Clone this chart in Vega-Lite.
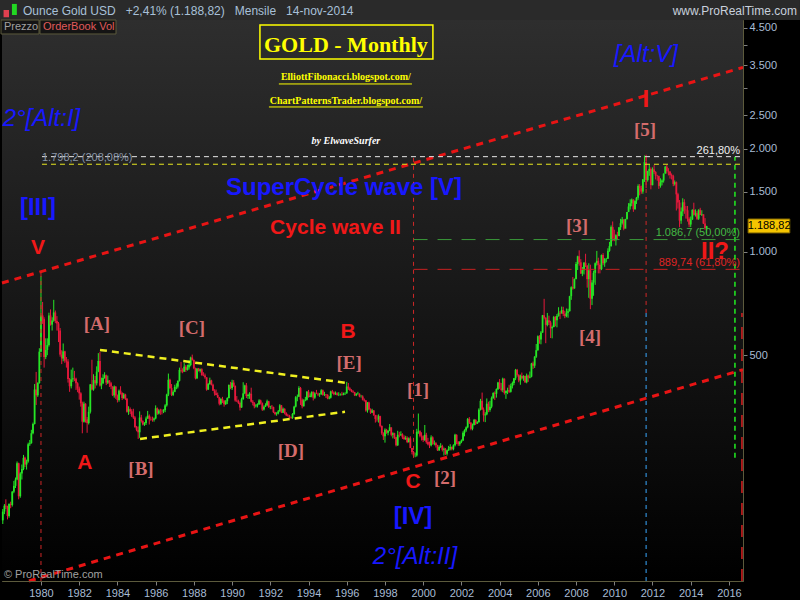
{
  "$schema": "https://vega.github.io/schema/vega-lite/v6.json",
  "width": 741,
  "height": 561,
  "autosize": "none",
  "padding": {"left": 2, "top": 20, "right": 57, "bottom": 19},
  "background": "#000000",
  "config": {"view": {"stroke": "#5c5a3c", "strokeWidth": 1}, "font": "Liberation Sans"},
  "encoding": {
    "x": {
      "field": "d", "type": "temporal", "title": null,
      "scale": {"type": "utc", "domain": [{"year": 1977, "month": 12, "date": 17, "utc": true}, {"year": 2016, "month": 9, "date": 26, "utc": true}]},
      "axis": {
        "values": [{"year": 1980, "utc": true}, {"year": 1982, "utc": true}, {"year": 1984, "utc": true}, {"year": 1986, "utc": true}, {"year": 1988, "utc": true}, {"year": 1990, "utc": true}, {"year": 1992, "utc": true}, {"year": 1994, "utc": true}, {"year": 1996, "utc": true}, {"year": 1998, "utc": true}, {"year": 2000, "utc": true}, {"year": 2002, "utc": true}, {"year": 2004, "utc": true}, {"year": 2006, "utc": true}, {"year": 2008, "utc": true}, {"year": 2010, "utc": true}, {"year": 2012, "utc": true}, {"year": 2014, "utc": true}, {"year": 2016, "utc": true}],
        "format": "%Y", "formatType": "utc",
        "labelColor": "#a8bcd4", "labelFontSize": 11, "labelFont": "Liberation Sans",
        "tickColor": "#808080", "tickSize": 4, "labelPadding": 2,
        "domainColor": "#5c5a3c", "grid": false, "zindex": 1, "labelFlush": false, "labelOverlap": false
      }
    },
    "y": {
      "field": "v", "type": "quantitative", "title": null,
      "scale": {"type": "log", "domain": [109.8, 4746], "nice": false},
      "axis": {
        "orient": "right",
        "values": [500, 1000, 1500, 2000, 2500, 3000, 3500, 4000, 4500],
        "labelExpr": "datum.value == 3000 || datum.value == 4000 ? '' : (datum.value < 1000 ? '' + datum.value : floor(datum.value / 1000) + '.' + (datum.value % 1000 == 0 ? '000' : '500'))",
        "labelColor": "#a8bcd4", "labelFontSize": 11, "labelFont": "Liberation Sans",
        "tickColor": "#808080", "tickSize": 4, "labelPadding": 2,
        "domainColor": "#5c5a3c", "grid": false, "zindex": 1, "labelFlush": false, "labelOverlap": false
      }
    }
  },
  "layer": [
    {
      "data": {"values": [{"d": "1977-12-17", "d2": "2016-09-26", "v": 109.8, "v2": 4746}]},
      "mark": {"type": "rect", "clip": false, "fill": {"gradient": "linear", "x1": 0, "y1": 0, "x2": 0, "y2": 1, "stops": [{"offset": 0, "color": "#2e2e2e"}, {"offset": 1, "color": "#000000"}]}},
      "encoding": {"x2": {"field": "d2"}, "y2": {"field": "v2"}}
    },
    {
      "data": {"values": [{"d": "1977-11-08", "d2": "2019-09-20", "v": 4746, "v2": 5600}]},
      "mark": {"type": "rect", "clip": false, "fill": "#2a2a2a"},
      "encoding": {"x2": {"field": "d2"}, "y2": {"field": "v2"}}
    },
    {
      "data": {"values": [{"d": "1978-01-16", "d2": "1978-04-30", "v": 4838, "v2": 5075, "s": "down"}, {"d": "1978-06-25", "d2": "1978-09-27", "v": 4907, "v2": 5287, "s": "up"}]},
      "mark": {"type": "rect", "clip": false},
      "encoding": {"x2": {"field": "d2"}, "y2": {"field": "v2"}, "color": {"condition": {"test": "datum.s == 'up'", "value": "#22d822"}, "value": "#e04050"}}
    },
    {
      "data": {"values": [{"d": "1977-11-28", "d2": "1979-11-24", "v": 4321, "v2": 4746}, {"d": "1979-12-13", "d2": "1983-12-05", "v": 4321, "v2": 4746}]},
      "mark": {"type": "rect", "clip": false, "fill": "#141414", "stroke": "#5c5a3c", "strokeWidth": 1},
      "encoding": {"x2": {"field": "d2"}, "y2": {"field": "v2"}}
    },
    {
      "data": {"name": "candles"},
      "mark": {"type": "rule", "strokeWidth": 1},
      "encoding": {
        "y": {
          "field": "l", "type": "quantitative", "title": null,
          "scale": {"type": "log", "domain": [109.8, 4746], "nice": false},
          "axis": {
            "orient": "right",
            "values": [500, 1000, 1500, 2000, 2500, 3000, 3500, 4000, 4500],
            "labelExpr": "datum.value == 3000 || datum.value == 4000 ? '' : (datum.value < 1000 ? '' + datum.value : floor(datum.value / 1000) + '.' + (datum.value % 1000 == 0 ? '000' : '500'))",
            "labelColor": "#a8bcd4", "labelFontSize": 11, "labelFont": "Liberation Sans",
            "tickColor": "#808080", "tickSize": 4, "labelPadding": 2,
            "domainColor": "#5c5a3c", "grid": false, "zindex": 1, "labelFlush": false, "labelOverlap": false
          }
        },
        "y2": {"field": "h"},
        "color": {"condition": {"test": "datum.c >= datum.o", "value": "#26e626"}, "value": "#e6193c"}
      }
    },
    {
      "data": {"name": "candles"},
      "mark": {"type": "rule", "strokeWidth": 1.8},
      "encoding": {
        "y": {
          "field": "o", "type": "quantitative", "title": null,
          "scale": {"type": "log", "domain": [109.8, 4746], "nice": false},
          "axis": {
            "orient": "right",
            "values": [500, 1000, 1500, 2000, 2500, 3000, 3500, 4000, 4500],
            "labelExpr": "datum.value == 3000 || datum.value == 4000 ? '' : (datum.value < 1000 ? '' + datum.value : floor(datum.value / 1000) + '.' + (datum.value % 1000 == 0 ? '000' : '500'))",
            "labelColor": "#a8bcd4", "labelFontSize": 11, "labelFont": "Liberation Sans",
            "tickColor": "#808080", "tickSize": 4, "labelPadding": 2,
            "domainColor": "#5c5a3c", "grid": false, "zindex": 1, "labelFlush": false, "labelOverlap": false
          }
        },
        "y2": {"field": "c"},
        "color": {"condition": {"test": "datum.c >= datum.o", "value": "#26e626"}, "value": "#e6193c"}
      }
    },
    {
      "data": {"values": [{"d": "1977-12-17", "v": 812, "g": "up"}, {"d": "2016-09-26", "v": 3453, "g": "up"}, {"d": "1979-05-16", "v": 109.8, "g": "low"}, {"d": "2016-09-26", "v": 454, "g": "low"}]},
      "mark": {"type": "line", "clip": false, "stroke": "#e81414", "strokeWidth": 3, "strokeDash": [7, 6]},
      "encoding": {"detail": {"field": "g"}}
    },
    {
      "data": {"values": [{"d": "1983-02-02", "v": 518, "g": "up"}, {"d": "1996-01-04", "v": 415, "g": "up"}, {"d": "1985-03-08", "v": 285, "g": "low"}, {"d": "1995-11-29", "v": 342, "g": "low"}]},
      "mark": {"type": "line", "stroke": "#f0f020", "strokeWidth": 2.5, "strokeDash": [7, 5]},
      "encoding": {"detail": {"field": "g"}}
    },
    {
      "data": {"values": [{"d": "1980-01-01", "v": 109.8, "v2": 874}, {"d": "1999-07-01", "v": 251, "v2": 1896}, {"d": "2011-09-01", "v": 664, "v2": 1920}]},
      "mark": {"type": "rule", "stroke": "#d02828", "strokeWidth": 1, "strokeDash": [4, 4]},
      "encoding": {"y2": {"field": "v2"}}
    },
    {
      "data": {"values": [{"d": "2011-09-01", "v": 109.8, "v2": 664}]},
      "mark": {"type": "rule", "stroke": "#3aa8ff", "strokeWidth": 1, "strokeDash": [4, 4]},
      "encoding": {"y2": {"field": "v2"}}
    },
    {
      "data": {"values": [{"d": "2016-04-25", "v": 251, "v2": 1896}]},
      "mark": {"type": "rule", "stroke": "#22ee22", "strokeWidth": 1.5, "strokeDash": [5, 4]},
      "encoding": {"y2": {"field": "v2"}}
    },
    {
      "data": {"values": [{"d": "2016-09-06", "v": 109.8, "v2": 664}]},
      "mark": {"type": "rule", "stroke": "#d82020", "strokeWidth": 1.5, "strokeDash": [12, 10]},
      "encoding": {"y2": {"field": "v2"}}
    },
    {
      "data": {"values": [{"d": "1980-01-20", "d2": "2016-07-31", "v": 1896}]},
      "mark": {"type": "rule", "stroke": "#e8e8e8", "strokeWidth": 1, "strokeDash": [5, 4]},
      "encoding": {"x2": {"field": "d2"}}
    },
    {
      "data": {"values": [{"d": "1980-01-20", "d2": "2016-07-31", "v": 1802}]},
      "mark": {"type": "rule", "stroke": "#e8e820", "strokeWidth": 1, "strokeDash": [5, 4]},
      "encoding": {"x2": {"field": "d2"}}
    },
    {
      "data": {"values": [{"d": "1999-07-01", "d2": "2016-07-31", "v": 1086.7}]},
      "mark": {"type": "rule", "stroke": "#3a9a3a", "strokeWidth": 1, "strokeDash": [14, 10]},
      "encoding": {"x2": {"field": "d2"}}
    },
    {
      "data": {"values": [{"d": "1999-07-01", "d2": "2016-07-31", "v": 889.74}]},
      "mark": {"type": "rule", "stroke": "#c82020", "strokeWidth": 1, "strokeDash": [14, 10]},
      "encoding": {"x2": {"field": "d2"}}
    },
    {
      "data": {"values": [{"d": "1991-06-17", "d2": "2000-07-05", "v": 3653, "v2": 4590}]},
      "mark": {"type": "rect", "filled": false, "stroke": "#ffff00", "strokeWidth": 1.5},
      "encoding": {"x2": {"field": "d2"}, "y2": {"field": "v2"}}
    },
    {
      "data": {"values": [{"d": "1992-06-13", "d2": "1999-05-31", "v": 3089}, {"d": "1991-12-06", "d2": "1999-12-28", "v": 2647}]},
      "mark": {"type": "rule", "stroke": "#ffff00", "strokeWidth": 1},
      "encoding": {"x2": {"field": "d2"}}
    },
    {
      "data": {"values": [{"d": "1995-12-16", "v": 4013, "t": "GOLD - Monthly"}]},
      "mark": {"type": "text", "font": "Liberation Serif", "fontWeight": "bold", "fontSize": 22, "color": "#ffff00", "align": "center", "baseline": "middle"},
      "encoding": {"text": {"field": "t"}}
    },
    {
      "data": {"values": [{"d": "1995-12-16", "v": 3237, "t": "ElliottFibonacci.blogspot.com/"}, {"d": "1995-12-16", "v": 2755, "t": "ChartPatternsTrader.blogspot.com/"}]},
      "mark": {"type": "text", "font": "Liberation Serif", "fontWeight": "bold", "fontSize": 10, "color": "#ffff00", "align": "center", "baseline": "middle"},
      "encoding": {"text": {"field": "t"}}
    },
    {
      "data": {"values": [{"d": "1995-12-16", "v": 2106, "t": "by ElwaveSurfer"}]},
      "mark": {"type": "text", "font": "Liberation Serif", "fontWeight": "bold", "fontStyle": "italic", "fontSize": 10, "color": "#ffffff", "align": "center", "baseline": "middle"},
      "encoding": {"text": {"field": "t"}}
    },
    {
      "data": {"values": [{"d": "2011-08-29", "v": 3752, "t": "[Alt:V]"}, {"d": "1980-01-10", "v": 2442, "t": "2°[Alt:I]"}, {"d": "1999-07-28", "v": 129, "t": "2°[Alt:II]"}]},
      "mark": {"type": "text", "fontStyle": "italic", "fontSize": 24, "color": "#1818ff", "align": "center", "baseline": "middle"},
      "encoding": {"text": {"field": "t"}}
    },
    {
      "data": {"values": [{"d": "1979-11-03", "v": 1344, "t": "[III]"}, {"d": "1999-06-21", "v": 169, "t": "[IV]"}, {"d": "1995-11-10", "v": 1537, "t": "SuperCycle wave [V]"}]},
      "mark": {"type": "text", "fontWeight": "bold", "fontSize": 24, "color": "#1818ff", "align": "center", "baseline": "middle"},
      "encoding": {"text": {"field": "t"}}
    },
    {
      "data": {"values": [{"d": "1979-11-03", "v": 1027, "t": "V"}, {"d": "1982-04-20", "v": 243, "t": "A"}, {"d": "1996-01-26", "v": 584, "t": "B"}, {"d": "1999-06-21", "v": 214, "t": "C"}, {"d": "1995-05-31", "v": 1175, "t": "Cycle wave II"}]},
      "mark": {"type": "text", "fontWeight": "bold", "fontSize": 21, "color": "#f01818", "align": "center", "baseline": "middle"},
      "encoding": {"text": {"field": "t"}}
    },
    {
      "data": {"values": [{"d": "2011-08-29", "v": 2774, "t": "I"}, {"d": "2015-04-10", "v": 1000, "t": "II?"}]},
      "mark": {"type": "text", "fontWeight": "bold", "fontSize": 24, "color": "#f01818", "align": "center", "baseline": "middle"},
      "encoding": {"text": {"field": "t"}}
    },
    {
      "data": {"values": [{"d": "2011-08-11", "v": 2268, "t": "[5]"}, {"d": "2008-01-19", "v": 1191, "t": "[3]"}, {"d": "2008-09-23", "v": 565, "t": "[4]"}, {"d": "1982-12-06", "v": 617, "t": "[A]"}, {"d": "1987-11-25", "v": 600, "t": "[C]"}, {"d": "1985-03-26", "v": 233, "t": "[B]"}, {"d": "1993-01-30", "v": 263, "t": "[D]"}, {"d": "1996-02-14", "v": 475, "t": "[E]"}, {"d": "1999-09-24", "v": 396, "t": "[1]"}, {"d": "2001-02-21", "v": 219, "t": "[2]"}]},
      "mark": {"type": "text", "font": "Liberation Serif", "fontWeight": "bold", "fontSize": 19, "color": "#d46c6c", "align": "center", "baseline": "middle"},
      "encoding": {"text": {"field": "t"}}
    },
    {
      "data": {"values": [{"d": "1980-01-20", "v": 1880, "t": "1.798,2 (208,08%)"}]},
      "mark": {"type": "text", "fontSize": 11, "color": "#8a96a8", "align": "left", "baseline": "middle"},
      "encoding": {"text": {"field": "t"}}
    },
    {
      "data": {"values": [{"d": "2016-07-31", "v": 1970, "t": "261,80%"}]},
      "mark": {"type": "text", "fontSize": 11, "color": "#f0f0f0", "align": "right", "baseline": "middle"},
      "encoding": {"text": {"field": "t"}}
    },
    {
      "data": {"values": [{"d": "2016-07-31", "v": 1136, "t": "1.086,7 (50,00%)"}]},
      "mark": {"type": "text", "fontSize": 11, "color": "#44b844", "align": "right", "baseline": "middle"},
      "encoding": {"text": {"field": "t"}}
    },
    {
      "data": {"values": [{"d": "2016-07-31", "v": 929, "t": "889,74 (61,80%)"}]},
      "mark": {"type": "text", "fontSize": 11, "color": "#e02424", "align": "right", "baseline": "middle"},
      "encoding": {"text": {"field": "t"}}
    },
    {
      "data": {"values": [{"d": "1978-01-23", "v": 114, "t": "© ProRealTime.com"}]},
      "mark": {"type": "text", "fontSize": 11, "color": "#a0a0a0", "align": "left", "baseline": "middle"},
      "encoding": {"text": {"field": "t"}}
    },
    {
      "data": {"values": [{"d": "1979-01-22", "v": 5041, "t": "Ounce Gold USD\u00a0\u00a0\u00a0+2,41% (1.188,82)\u00a0\u00a0\u00a0Mensile\u00a0\u00a0\u00a014-nov-2014"}]},
      "mark": {"type": "text", "clip": false, "fontSize": 12, "color": "#a8c0d8", "align": "left", "baseline": "middle"},
      "encoding": {"text": {"field": "t"}}
    },
    {
      "data": {"values": [{"d": "2019-07-24", "v": 5041, "t": "www.ProRealTime.com"}]},
      "mark": {"type": "text", "clip": false, "fontSize": 12, "color": "#c8d0dc", "align": "right", "baseline": "middle"},
      "encoding": {"text": {"field": "t"}}
    },
    {
      "data": {"values": [{"d": "1978-01-23", "v": 4529, "t": "Prezzo"}]},
      "mark": {"type": "text", "fontSize": 11, "color": "#a0a0a0", "align": "left", "baseline": "middle"},
      "encoding": {"text": {"field": "t"}}
    },
    {
      "data": {"values": [{"d": "1980-02-08", "v": 4529, "t": "OrderBook Vol"}]},
      "mark": {"type": "text", "fontSize": 11, "color": "#e05a5a", "align": "left", "baseline": "middle"},
      "encoding": {"text": {"field": "t"}}
    },
    {
      "data": {"values": [{"d": "2017-01-01", "d2": "2019-03-10", "v": 1136, "v2": 1248}]},
      "mark": {"type": "rect", "clip": false, "fill": "#f5c400", "stroke": "#7a6000", "strokeWidth": 1},
      "encoding": {"x2": {"field": "d2"}, "y2": {"field": "v2"}}
    },
    {
      "data": {"values": [{"d": "2018-02-07", "v": 1188.82, "t": "1.188,82"}]},
      "mark": {"type": "text", "clip": false, "fontSize": 11, "color": "#000000", "align": "center", "baseline": "middle"},
      "encoding": {"text": {"field": "t"}}
    }
  ],
  "datasets": {
    "candles": [
      {"d":"1978-01","o":165,"h":178,"l":161,"c":175},{"d":"1978-02","o":175,"h":184,"l":172,"c":182},{"d":"1978-03","o":182,"h":190,"l":178,"c":181},{"d":"1978-04","o":181,"h":182,"l":166,"c":170},{"d":"1978-05","o":170,"h":185,"l":168,"c":184},{"d":"1978-06","o":184,"h":187,"l":179,"c":183},{"d":"1978-07","o":183,"h":201,"l":181,"c":200},{"d":"1978-08","o":200,"h":215,"l":198,"c":208},{"d":"1978-09","o":208,"h":220,"l":205,"c":217},{"d":"1978-10","o":217,"h":245,"l":216,"c":242},{"d":"1978-11","o":242,"h":243,"l":190,"c":194},{"d":"1978-12","o":194,"h":228,"l":192,"c":226},
      {"d":"1979-01","o":226,"h":240,"l":217,"c":233},{"d":"1979-02","o":233,"h":256,"l":231,"c":251},{"d":"1979-03","o":251,"h":253,"l":236,"c":240},{"d":"1979-04","o":240,"h":248,"l":232,"c":245},{"d":"1979-05","o":245,"h":278,"l":243,"c":275},{"d":"1979-06","o":275,"h":283,"l":272,"c":277},{"d":"1979-07","o":277,"h":303,"l":276,"c":296},{"d":"1979-08","o":296,"h":318,"l":294,"c":315},{"d":"1979-09","o":315,"h":412,"l":314,"c":397},{"d":"1979-10","o":397,"h":447,"l":358,"c":382},{"d":"1979-11","o":382,"h":417,"l":378,"c":415},{"d":"1979-12","o":415,"h":524,"l":413,"c":512},
      {"d":"1980-01","o":512,"h":850,"l":510,"c":653},{"d":"1980-02","o":653,"h":715,"l":617,"c":637},{"d":"1980-03","o":637,"h":645,"l":460,"c":494},{"d":"1980-04","o":494,"h":560,"l":487,"c":518},{"d":"1980-05","o":518,"h":560,"l":500,"c":535},{"d":"1980-06","o":535,"h":665,"l":530,"c":653},{"d":"1980-07","o":653,"h":680,"l":610,"c":614},{"d":"1980-08","o":614,"h":645,"l":590,"c":631},{"d":"1980-09","o":631,"h":725,"l":626,"c":666},{"d":"1980-10","o":666,"h":675,"l":620,"c":629},{"d":"1980-11","o":629,"h":650,"l":590,"c":619},{"d":"1980-12","o":619,"h":625,"l":546,"c":590},
      {"d":"1981-01","o":590,"h":600,"l":495,"c":502},{"d":"1981-02","o":502,"h":517,"l":471,"c":489},{"d":"1981-03","o":489,"h":541,"l":480,"c":513},{"d":"1981-04","o":513,"h":515,"l":475,"c":482},{"d":"1981-05","o":482,"h":494,"l":460,"c":479},{"d":"1981-06","o":479,"h":487,"l":416,"c":426},{"d":"1981-07","o":426,"h":429,"l":391,"c":406},{"d":"1981-08","o":406,"h":454,"l":400,"c":425},{"d":"1981-09","o":425,"h":460,"l":418,"c":428},{"d":"1981-10","o":428,"h":450,"l":420,"c":427},{"d":"1981-11","o":427,"h":430,"l":396,"c":414},{"d":"1981-12","o":414,"h":417,"l":390,"c":400},
      {"d":"1982-01","o":400,"h":405,"l":371,"c":387},{"d":"1982-02","o":387,"h":390,"l":354,"c":362},{"d":"1982-03","o":362,"h":366,"l":296,"c":320},{"d":"1982-04","o":320,"h":366,"l":318,"c":361},{"d":"1982-05","o":361,"h":362,"l":318,"c":325},{"d":"1982-06","o":325,"h":330,"l":297,"c":317},{"d":"1982-07","o":317,"h":354,"l":314,"c":342},{"d":"1982-08","o":342,"h":412,"l":338,"c":411},{"d":"1982-09","o":411,"h":485,"l":395,"c":397},{"d":"1982-10","o":397,"h":440,"l":394,"c":423},{"d":"1982-11","o":423,"h":435,"l":400,"c":414},{"d":"1982-12","o":414,"h":464,"l":408,"c":448},
      {"d":"1983-01","o":448,"h":507,"l":446,"c":481},{"d":"1983-02","o":481,"h":511,"l":405,"c":408},{"d":"1983-03","o":408,"h":430,"l":398,"c":414},{"d":"1983-04","o":414,"h":440,"l":412,"c":429},{"d":"1983-05","o":429,"h":446,"l":427,"c":437},{"d":"1983-06","o":437,"h":439,"l":409,"c":416},{"d":"1983-07","o":416,"h":436,"l":412,"c":422},{"d":"1983-08","o":422,"h":423,"l":404,"c":414},{"d":"1983-09","o":414,"h":418,"l":398,"c":405},{"d":"1983-10","o":405,"h":406,"l":380,"c":382},{"d":"1983-11","o":382,"h":408,"l":376,"c":405},{"d":"1983-12","o":405,"h":406,"l":373,"c":381},
      {"d":"1984-01","o":381,"h":384,"l":364,"c":370},{"d":"1984-02","o":370,"h":397,"l":366,"c":394},{"d":"1984-03","o":394,"h":406,"l":384,"c":388},{"d":"1984-04","o":388,"h":390,"l":370,"c":375},{"d":"1984-05","o":375,"h":388,"l":373,"c":384},{"d":"1984-06","o":384,"h":386,"l":370,"c":373},{"d":"1984-07","o":373,"h":375,"l":340,"c":342},{"d":"1984-08","o":342,"h":355,"l":335,"c":348},{"d":"1984-09","o":348,"h":352,"l":337,"c":343},{"d":"1984-10","o":343,"h":348,"l":330,"c":333},{"d":"1984-11","o":333,"h":349,"l":326,"c":329},{"d":"1984-12","o":329,"h":332,"l":307,"c":309},
      {"d":"1985-01","o":309,"h":311,"l":300,"c":303},{"d":"1985-02","o":303,"h":310,"l":285,"c":298},{"d":"1985-03","o":298,"h":343,"l":287,"c":329},{"d":"1985-04","o":329,"h":335,"l":318,"c":321},{"d":"1985-05","o":321,"h":323,"l":312,"c":314},{"d":"1985-06","o":314,"h":319,"l":311,"c":317},{"d":"1985-07","o":317,"h":331,"l":313,"c":327},{"d":"1985-08","o":327,"h":344,"l":326,"c":333},{"d":"1985-09","o":333,"h":336,"l":314,"c":326},{"d":"1985-10","o":326,"h":331,"l":322,"c":325},{"d":"1985-11","o":325,"h":331,"l":320,"c":324},{"d":"1985-12","o":324,"h":329,"l":320,"c":327},
      {"d":"1986-01","o":327,"h":357,"l":325,"c":350},{"d":"1986-02","o":350,"h":352,"l":335,"c":338},{"d":"1986-03","o":338,"h":348,"l":336,"c":345},{"d":"1986-04","o":345,"h":349,"l":335,"c":344},{"d":"1986-05","o":344,"h":348,"l":336,"c":343},{"d":"1986-06","o":343,"h":348,"l":339,"c":346},{"d":"1986-07","o":346,"h":360,"l":341,"c":357},{"d":"1986-08","o":357,"h":386,"l":354,"c":384},{"d":"1986-09","o":384,"h":442,"l":380,"c":424},{"d":"1986-10","o":424,"h":427,"l":398,"c":401},{"d":"1986-11","o":401,"h":412,"l":380,"c":383},{"d":"1986-12","o":383,"h":395,"l":380,"c":391},
      {"d":"1987-01","o":391,"h":410,"l":390,"c":404},{"d":"1987-02","o":404,"h":414,"l":398,"c":405},{"d":"1987-03","o":405,"h":422,"l":400,"c":421},{"d":"1987-04","o":421,"h":460,"l":419,"c":453},{"d":"1987-05","o":453,"h":478,"l":445,"c":451},{"d":"1987-06","o":451,"h":458,"l":443,"c":448},{"d":"1987-07","o":448,"h":474,"l":447,"c":463},{"d":"1987-08","o":463,"h":468,"l":447,"c":453},{"d":"1987-09","o":453,"h":469,"l":451,"c":460},{"d":"1987-10","o":460,"h":483,"l":454,"c":468},{"d":"1987-11","o":468,"h":495,"l":464,"c":492},{"d":"1987-12","o":492,"h":502,"l":482,"c":484},
      {"d":"1988-01","o":484,"h":486,"l":455,"c":458},{"d":"1988-02","o":458,"h":460,"l":425,"c":428},{"d":"1988-03","o":428,"h":458,"l":426,"c":457},{"d":"1988-04","o":457,"h":459,"l":448,"c":450},{"d":"1988-05","o":450,"h":457,"l":445,"c":455},{"d":"1988-06","o":455,"h":458,"l":436,"c":437},{"d":"1988-07","o":437,"h":446,"l":434,"c":436},{"d":"1988-08","o":436,"h":442,"l":427,"c":431},{"d":"1988-09","o":431,"h":431,"l":394,"c":397},{"d":"1988-10","o":397,"h":415,"l":396,"c":412},{"d":"1988-11","o":412,"h":430,"l":410,"c":422},{"d":"1988-12","o":422,"h":424,"l":408,"c":410},
      {"d":"1989-01","o":410,"h":413,"l":394,"c":394},{"d":"1989-02","o":394,"h":398,"l":381,"c":387},{"d":"1989-03","o":387,"h":397,"l":382,"c":383},{"d":"1989-04","o":383,"h":389,"l":375,"c":377},{"d":"1989-05","o":377,"h":378,"l":357,"c":361},{"d":"1989-06","o":361,"h":374,"l":358,"c":373},{"d":"1989-07","o":373,"h":378,"l":363,"c":368},{"d":"1989-08","o":368,"h":370,"l":354,"c":360},{"d":"1989-09","o":360,"h":370,"l":358,"c":367},{"d":"1989-10","o":367,"h":377,"l":360,"c":375},{"d":"1989-11","o":375,"h":411,"l":374,"c":409},{"d":"1989-12","o":409,"h":418,"l":398,"c":401},
      {"d":"1990-01","o":401,"h":424,"l":396,"c":416},{"d":"1990-02","o":416,"h":423,"l":404,"c":407},{"d":"1990-03","o":407,"h":408,"l":366,"c":369},{"d":"1990-04","o":369,"h":380,"l":365,"c":368},{"d":"1990-05","o":368,"h":371,"l":360,"c":363},{"d":"1990-06","o":363,"h":366,"l":345,"c":352},{"d":"1990-07","o":352,"h":376,"l":351,"c":372},{"d":"1990-08","o":372,"h":417,"l":371,"c":387},{"d":"1990-09","o":387,"h":410,"l":385,"c":408},{"d":"1990-10","o":408,"h":415,"l":375,"c":380},{"d":"1990-11","o":380,"h":386,"l":373,"c":383},{"d":"1990-12","o":383,"h":390,"l":373,"c":386},
      {"d":"1991-01","o":386,"h":402,"l":364,"c":366},{"d":"1991-02","o":366,"h":370,"l":357,"c":363},{"d":"1991-03","o":363,"h":365,"l":350,"c":355},{"d":"1991-04","o":355,"h":360,"l":352,"c":357},{"d":"1991-05","o":357,"h":362,"l":352,"c":360},{"d":"1991-06","o":360,"h":372,"l":358,"c":369},{"d":"1991-07","o":369,"h":371,"l":359,"c":362},{"d":"1991-08","o":362,"h":364,"l":344,"c":347},{"d":"1991-09","o":347,"h":357,"l":345,"c":354},{"d":"1991-10","o":354,"h":362,"l":353,"c":357},{"d":"1991-11","o":357,"h":371,"l":356,"c":367},{"d":"1991-12","o":367,"h":368,"l":351,"c":353},
      {"d":"1992-01","o":353,"h":356,"l":348,"c":354},{"d":"1992-02","o":354,"h":358,"l":348,"c":353},{"d":"1992-03","o":353,"h":354,"l":339,"c":341},{"d":"1992-04","o":341,"h":342,"l":334,"c":337},{"d":"1992-05","o":337,"h":341,"l":333,"c":338},{"d":"1992-06","o":338,"h":346,"l":336,"c":343},{"d":"1992-07","o":343,"h":360,"l":342,"c":357},{"d":"1992-08","o":357,"h":358,"l":339,"c":340},{"d":"1992-09","o":340,"h":352,"l":339,"c":349},{"d":"1992-10","o":349,"h":350,"l":336,"c":339},{"d":"1992-11","o":339,"h":341,"l":332,"c":334},{"d":"1992-12","o":334,"h":337,"l":331,"c":333},
      {"d":"1993-01","o":333,"h":335,"l":327,"c":329},{"d":"1993-02","o":329,"h":331,"l":326,"c":328},{"d":"1993-03","o":328,"h":339,"l":326,"c":337},{"d":"1993-04","o":337,"h":356,"l":335,"c":354},{"d":"1993-05","o":354,"h":380,"l":352,"c":377},{"d":"1993-06","o":377,"h":384,"l":367,"c":378},{"d":"1993-07","o":378,"h":406,"l":378,"c":401},{"d":"1993-08","o":401,"h":404,"l":358,"c":371},{"d":"1993-09","o":371,"h":374,"l":350,"c":355},{"d":"1993-10","o":355,"h":372,"l":354,"c":369},{"d":"1993-11","o":369,"h":378,"l":367,"c":371},{"d":"1993-12","o":371,"h":393,"l":369,"c":391},
      {"d":"1994-01","o":391,"h":396,"l":376,"c":378},{"d":"1994-02","o":378,"h":387,"l":377,"c":381},{"d":"1994-03","o":381,"h":392,"l":377,"c":391},{"d":"1994-04","o":391,"h":392,"l":369,"c":376},{"d":"1994-05","o":376,"h":390,"l":373,"c":387},{"d":"1994-06","o":387,"h":396,"l":385,"c":386},{"d":"1994-07","o":386,"h":389,"l":380,"c":384},{"d":"1994-08","o":384,"h":388,"l":378,"c":385},{"d":"1994-09","o":385,"h":398,"l":383,"c":395},{"d":"1994-10","o":395,"h":397,"l":381,"c":383},{"d":"1994-11","o":383,"h":391,"l":380,"c":384},{"d":"1994-12","o":384,"h":385,"l":375,"c":383},
      {"d":"1995-01","o":383,"h":385,"l":372,"c":374},{"d":"1995-02","o":374,"h":380,"l":372,"c":376},{"d":"1995-03","o":376,"h":394,"l":374,"c":392},{"d":"1995-04","o":392,"h":396,"l":386,"c":389},{"d":"1995-05","o":389,"h":392,"l":382,"c":385},{"d":"1995-06","o":385,"h":392,"l":383,"c":387},{"d":"1995-07","o":387,"h":390,"l":381,"c":383},{"d":"1995-08","o":383,"h":390,"l":380,"c":383},{"d":"1995-09","o":383,"h":387,"l":381,"c":384},{"d":"1995-10","o":384,"h":391,"l":381,"c":383},{"d":"1995-11","o":383,"h":389,"l":382,"c":387},{"d":"1995-12","o":387,"h":390,"l":383,"c":387},
      {"d":"1996-01","o":387,"h":418,"l":386,"c":405},{"d":"1996-02","o":405,"h":415,"l":396,"c":400},{"d":"1996-03","o":400,"h":403,"l":393,"c":396},{"d":"1996-04","o":396,"h":398,"l":390,"c":392},{"d":"1996-05","o":392,"h":395,"l":388,"c":390},{"d":"1996-06","o":390,"h":391,"l":380,"c":382},{"d":"1996-07","o":382,"h":388,"l":380,"c":385},{"d":"1996-08","o":385,"h":391,"l":384,"c":386},{"d":"1996-09","o":386,"h":387,"l":377,"c":379},{"d":"1996-10","o":379,"h":383,"l":376,"c":379},{"d":"1996-11","o":379,"h":382,"l":369,"c":371},{"d":"1996-12","o":371,"h":374,"l":366,"c":369},
      {"d":"1997-01","o":369,"h":370,"l":342,"c":345},{"d":"1997-02","o":345,"h":365,"l":340,"c":364},{"d":"1997-03","o":364,"h":366,"l":346,"c":348},{"d":"1997-04","o":348,"h":350,"l":337,"c":340},{"d":"1997-05","o":340,"h":349,"l":339,"c":345},{"d":"1997-06","o":345,"h":346,"l":333,"c":334},{"d":"1997-07","o":334,"h":335,"l":318,"c":326},{"d":"1997-08","o":326,"h":335,"l":320,"c":325},{"d":"1997-09","o":325,"h":336,"l":318,"c":332},{"d":"1997-10","o":332,"h":333,"l":308,"c":311},{"d":"1997-11","o":311,"h":312,"l":293,"c":296},{"d":"1997-12","o":296,"h":298,"l":283,"c":290},
      {"d":"1998-01","o":290,"h":306,"l":278,"c":303},{"d":"1998-02","o":303,"h":305,"l":295,"c":297},{"d":"1998-03","o":297,"h":302,"l":292,"c":301},{"d":"1998-04","o":301,"h":315,"l":300,"c":308},{"d":"1998-05","o":308,"h":308,"l":290,"c":293},{"d":"1998-06","o":293,"h":298,"l":286,"c":296},{"d":"1998-07","o":296,"h":297,"l":285,"c":288},{"d":"1998-08","o":288,"h":289,"l":271,"c":273},{"d":"1998-09","o":273,"h":301,"l":272,"c":293},{"d":"1998-10","o":293,"h":299,"l":288,"c":292},{"d":"1998-11","o":292,"h":300,"l":291,"c":294},{"d":"1998-12","o":294,"h":296,"l":285,"c":288},
      {"d":"1999-01","o":288,"h":292,"l":283,"c":285},{"d":"1999-02","o":285,"h":291,"l":283,"c":287},{"d":"1999-03","o":287,"h":290,"l":277,"c":279},{"d":"1999-04","o":279,"h":288,"l":278,"c":286},{"d":"1999-05","o":286,"h":290,"l":268,"c":268},{"d":"1999-06","o":268,"h":268,"l":257,"c":261},{"d":"1999-07","o":261,"h":263,"l":252,"c":255},{"d":"1999-08","o":255,"h":260,"l":252,"c":255},{"d":"1999-09","o":255,"h":305,"l":253,"c":299},{"d":"1999-10","o":299,"h":338,"l":295,"c":300},{"d":"1999-11","o":300,"h":302,"l":288,"c":291},{"d":"1999-12","o":291,"h":298,"l":282,"c":290},
      {"d":"2000-01","o":290,"h":292,"l":279,"c":283},{"d":"2000-02","o":283,"h":313,"l":281,"c":293},{"d":"2000-03","o":293,"h":297,"l":276,"c":279},{"d":"2000-04","o":279,"h":287,"l":273,"c":275},{"d":"2000-05","o":275,"h":280,"l":268,"c":273},{"d":"2000-06","o":273,"h":292,"l":271,"c":288},{"d":"2000-07","o":288,"h":290,"l":274,"c":276},{"d":"2000-08","o":276,"h":282,"l":273,"c":277},{"d":"2000-09","o":277,"h":279,"l":269,"c":273},{"d":"2000-10","o":273,"h":274,"l":263,"c":264},{"d":"2000-11","o":264,"h":273,"l":263,"c":270},{"d":"2000-12","o":270,"h":277,"l":268,"c":272},
      {"d":"2001-01","o":272,"h":274,"l":262,"c":265},{"d":"2001-02","o":265,"h":269,"l":255,"c":267},{"d":"2001-03","o":267,"h":268,"l":256,"c":258},{"d":"2001-04","o":258,"h":265,"l":255,"c":264},{"d":"2001-05","o":264,"h":272,"l":263,"c":267},{"d":"2001-06","o":267,"h":275,"l":264,"c":270},{"d":"2001-07","o":270,"h":271,"l":264,"c":266},{"d":"2001-08","o":266,"h":275,"l":264,"c":273},{"d":"2001-09","o":273,"h":295,"l":271,"c":293},{"d":"2001-10","o":293,"h":294,"l":275,"c":279},{"d":"2001-11","o":279,"h":281,"l":272,"c":275},{"d":"2001-12","o":275,"h":281,"l":272,"c":279},
      {"d":"2002-01","o":279,"h":284,"l":277,"c":282},{"d":"2002-02","o":282,"h":300,"l":281,"c":297},{"d":"2002-03","o":297,"h":304,"l":290,"c":302},{"d":"2002-04","o":302,"h":310,"l":299,"c":308},{"d":"2002-05","o":308,"h":328,"l":306,"c":326},{"d":"2002-06","o":326,"h":330,"l":315,"c":318},{"d":"2002-07","o":318,"h":319,"l":302,"c":305},{"d":"2002-08","o":305,"h":316,"l":302,"c":313},{"d":"2002-09","o":313,"h":326,"l":312,"c":324},{"d":"2002-10","o":324,"h":325,"l":313,"c":316},{"d":"2002-11","o":316,"h":321,"l":315,"c":319},{"d":"2002-12","o":319,"h":350,"l":318,"c":347},
      {"d":"2003-01","o":347,"h":373,"l":345,"c":368},{"d":"2003-02","o":368,"h":389,"l":347,"c":347},{"d":"2003-03","o":347,"h":352,"l":320,"c":334},{"d":"2003-04","o":334,"h":341,"l":319,"c":336},{"d":"2003-05","o":336,"h":374,"l":334,"c":361},{"d":"2003-06","o":361,"h":366,"l":341,"c":346},{"d":"2003-07","o":346,"h":368,"l":342,"c":354},{"d":"2003-08","o":354,"h":379,"l":350,"c":375},{"d":"2003-09","o":375,"h":390,"l":373,"c":388},{"d":"2003-10","o":388,"h":392,"l":370,"c":386},{"d":"2003-11","o":386,"h":400,"l":376,"c":398},{"d":"2003-12","o":398,"h":418,"l":396,"c":416},
      {"d":"2004-01","o":416,"h":426,"l":399,"c":400},{"d":"2004-02","o":400,"h":415,"l":392,"c":396},{"d":"2004-03","o":396,"h":430,"l":390,"c":427},{"d":"2004-04","o":427,"h":428,"l":384,"c":388},{"d":"2004-05","o":388,"h":395,"l":373,"c":393},{"d":"2004-06","o":393,"h":402,"l":385,"c":395},{"d":"2004-07","o":395,"h":410,"l":388,"c":391},{"d":"2004-08","o":391,"h":413,"l":389,"c":407},{"d":"2004-09","o":407,"h":419,"l":400,"c":415},{"d":"2004-10","o":415,"h":429,"l":409,"c":428},{"d":"2004-11","o":428,"h":456,"l":423,"c":453},{"d":"2004-12","o":453,"h":456,"l":433,"c":438},
      {"d":"2005-01","o":438,"h":440,"l":417,"c":422},{"d":"2005-02","o":422,"h":439,"l":410,"c":435},{"d":"2005-03","o":435,"h":445,"l":425,"c":428},{"d":"2005-04","o":428,"h":437,"l":421,"c":435},{"d":"2005-05","o":435,"h":436,"l":415,"c":417},{"d":"2005-06","o":417,"h":442,"l":414,"c":436},{"d":"2005-07","o":436,"h":439,"l":418,"c":430},{"d":"2005-08","o":430,"h":448,"l":428,"c":433},{"d":"2005-09","o":433,"h":475,"l":431,"c":473},{"d":"2005-10","o":473,"h":479,"l":456,"c":466},{"d":"2005-11","o":466,"h":497,"l":459,"c":495},{"d":"2005-12","o":495,"h":539,"l":491,"c":517},
      {"d":"2006-01","o":517,"h":571,"l":515,"c":568},{"d":"2006-02","o":568,"h":572,"l":540,"c":556},{"d":"2006-03","o":556,"h":588,"l":538,"c":582},{"d":"2006-04","o":582,"h":655,"l":581,"c":654},{"d":"2006-05","o":654,"h":730,"l":636,"c":643},{"d":"2006-06","o":643,"h":645,"l":542,"c":613},{"d":"2006-07","o":613,"h":664,"l":607,"c":632},{"d":"2006-08","o":632,"h":652,"l":612,"c":623},{"d":"2006-09","o":623,"h":630,"l":561,"c":599},{"d":"2006-10","o":599,"h":610,"l":560,"c":604},{"d":"2006-11","o":604,"h":651,"l":603,"c":646},{"d":"2006-12","o":646,"h":650,"l":607,"c":632},
      {"d":"2007-01","o":632,"h":659,"l":603,"c":650},{"d":"2007-02","o":650,"h":690,"l":648,"c":665},{"d":"2007-03","o":665,"h":673,"l":637,"c":662},{"d":"2007-04","o":662,"h":693,"l":661,"c":677},{"d":"2007-05","o":677,"h":692,"l":650,"c":659},{"d":"2007-06","o":659,"h":673,"l":641,"c":650},{"d":"2007-07","o":650,"h":684,"l":645,"c":665},{"d":"2007-08","o":665,"h":683,"l":643,"c":672},{"d":"2007-09","o":672,"h":745,"l":670,"c":743},{"d":"2007-10","o":743,"h":794,"l":725,"c":789},{"d":"2007-11","o":789,"h":845,"l":776,"c":783},{"d":"2007-12","o":783,"h":837,"l":781,"c":834},
      {"d":"2008-01","o":834,"h":935,"l":832,"c":923},{"d":"2008-02","o":923,"h":975,"l":886,"c":971},{"d":"2008-03","o":971,"h":1011,"l":912,"c":933},{"d":"2008-04","o":933,"h":953,"l":863,"c":865},{"d":"2008-05","o":865,"h":904,"l":850,"c":885},{"d":"2008-06","o":885,"h":935,"l":860,"c":930},{"d":"2008-07","o":930,"h":988,"l":904,"c":913},{"d":"2008-08","o":913,"h":915,"l":787,"c":833},{"d":"2008-09","o":833,"h":927,"l":735,"c":884},{"d":"2008-10","o":884,"h":918,"l":681,"c":730},{"d":"2008-11","o":730,"h":828,"l":700,"c":814},{"d":"2008-12","o":814,"h":882,"l":745,"c":869},
      {"d":"2009-01","o":869,"h":932,"l":802,"c":927},{"d":"2009-02","o":927,"h":1007,"l":913,"c":942},{"d":"2009-03","o":942,"h":962,"l":866,"c":916},{"d":"2009-04","o":916,"h":926,"l":866,"c":891},{"d":"2009-05","o":891,"h":983,"l":885,"c":979},{"d":"2009-06","o":979,"h":992,"l":915,"c":927},{"d":"2009-07","o":927,"h":960,"l":905,"c":954},{"d":"2009-08","o":954,"h":961,"l":933,"c":955},{"d":"2009-09","o":955,"h":1025,"l":954,"c":1008},{"d":"2009-10","o":1008,"h":1070,"l":1001,"c":1040},{"d":"2009-11","o":1040,"h":1195,"l":1036,"c":1182},{"d":"2009-12","o":1182,"h":1227,"l":1075,"c":1097},
      {"d":"2010-01","o":1097,"h":1161,"l":1075,"c":1081},{"d":"2010-02","o":1081,"h":1126,"l":1044,"c":1118},{"d":"2010-03","o":1118,"h":1145,"l":1088,"c":1113},{"d":"2010-04","o":1113,"h":1181,"l":1111,"c":1180},{"d":"2010-05","o":1180,"h":1249,"l":1159,"c":1213},{"d":"2010-06","o":1213,"h":1265,"l":1202,"c":1244},{"d":"2010-07","o":1244,"h":1244,"l":1157,"c":1169},{"d":"2010-08","o":1169,"h":1249,"l":1176,"c":1248},{"d":"2010-09","o":1248,"h":1308,"l":1242,"c":1307},{"d":"2010-10","o":1307,"h":1388,"l":1315,"c":1357},{"d":"2010-11","o":1357,"h":1424,"l":1330,"c":1386},{"d":"2010-12","o":1386,"h":1432,"l":1360,"c":1421},
      {"d":"2011-01","o":1421,"h":1424,"l":1309,"c":1333},{"d":"2011-02","o":1333,"h":1412,"l":1329,"c":1410},{"d":"2011-03","o":1410,"h":1447,"l":1380,"c":1439},{"d":"2011-04","o":1439,"h":1575,"l":1419,"c":1556},{"d":"2011-05","o":1556,"h":1577,"l":1462,"c":1536},{"d":"2011-06","o":1536,"h":1561,"l":1478,"c":1500},{"d":"2011-07","o":1500,"h":1632,"l":1478,"c":1628},{"d":"2011-08","o":1628,"h":1911,"l":1600,"c":1829},{"d":"2011-09","o":1829,"h":1921,"l":1535,"c":1620},{"d":"2011-10","o":1620,"h":1725,"l":1604,"c":1722},{"d":"2011-11","o":1722,"h":1804,"l":1667,"c":1746},{"d":"2011-12","o":1746,"h":1764,"l":1523,"c":1566},
      {"d":"2012-01","o":1566,"h":1764,"l":1564,"c":1740},{"d":"2012-02","o":1740,"h":1791,"l":1689,"c":1710},{"d":"2012-03","o":1710,"h":1720,"l":1627,"c":1669},{"d":"2012-04","o":1669,"h":1678,"l":1613,"c":1664},{"d":"2012-05","o":1664,"h":1669,"l":1527,"c":1558},{"d":"2012-06","o":1558,"h":1640,"l":1540,"c":1598},{"d":"2012-07","o":1598,"h":1627,"l":1564,"c":1615},{"d":"2012-08","o":1615,"h":1694,"l":1593,"c":1692},{"d":"2012-09","o":1692,"h":1781,"l":1692,"c":1773},{"d":"2012-10","o":1773,"h":1796,"l":1693,"c":1719},{"d":"2012-11","o":1719,"h":1755,"l":1672,"c":1714},{"d":"2012-12","o":1714,"h":1723,"l":1636,"c":1676},
      {"d":"2013-01","o":1676,"h":1694,"l":1627,"c":1664},{"d":"2013-02","o":1664,"h":1679,"l":1555,"c":1579},{"d":"2013-03","o":1579,"h":1616,"l":1562,"c":1597},{"d":"2013-04","o":1597,"h":1605,"l":1321,"c":1472},{"d":"2013-05","o":1472,"h":1488,"l":1338,"c":1393},{"d":"2013-06","o":1393,"h":1417,"l":1180,"c":1234},{"d":"2013-07","o":1234,"h":1348,"l":1208,"c":1313},{"d":"2013-08","o":1313,"h":1434,"l":1272,"c":1396},{"d":"2013-09","o":1396,"h":1424,"l":1292,"c":1327},{"d":"2013-10","o":1327,"h":1361,"l":1251,"c":1323},{"d":"2013-11","o":1323,"h":1362,"l":1226,"c":1250},{"d":"2013-12","o":1250,"h":1262,"l":1182,"c":1202},
      {"d":"2014-01","o":1202,"h":1269,"l":1182,"c":1244},{"d":"2014-02","o":1244,"h":1332,"l":1239,"c":1326},{"d":"2014-03","o":1326,"h":1392,"l":1277,"c":1284},{"d":"2014-04","o":1284,"h":1331,"l":1268,"c":1296},{"d":"2014-05","o":1296,"h":1315,"l":1240,"c":1250},{"d":"2014-06","o":1250,"h":1332,"l":1240,"c":1327},{"d":"2014-07","o":1327,"h":1345,"l":1281,"c":1282},{"d":"2014-08","o":1282,"h":1323,"l":1273,"c":1287},{"d":"2014-09","o":1287,"h":1288,"l":1206,"c":1210},{"d":"2014-10","o":1210,"h":1255,"l":1160,"c":1172},{"d":"2014-11","o":1172,"h":1192,"l":1131,"c":1189}
    ]
  }
}
